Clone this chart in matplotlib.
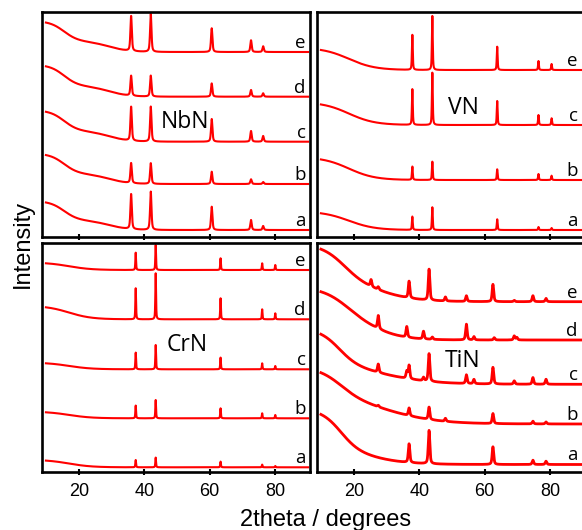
import numpy as np
import matplotlib
matplotlib.use("Agg")
import matplotlib.pyplot as plt

plt.rcParams['font.family'] = ['Liberation Sans', 'DejaVu Sans']

# ---------------- data (arbitrary intensity units, offset traces) ----------------
X_RANGE = (10, 90)

# NbN panel
NBN_LABELS = ['a', 'b', 'c', 'd', 'e']
NBN_POS = [36.0, 42.0, 60.6, 72.6, 76.3]
NBN_HEIGHTS = [[35, 38.3, 23.3, 10, 4],
               [20, 20.7, 12.3, 4.7, 2],
               [34, 35, 22.7, 10.7, 5.7],
               [20, 21, 13.3, 6.7, 3.4],
               [35, 38, 23.7, 11.7, 5.7]]
NBN_BASE = [7, 53, 95.3, 140.3, 185]
NBN_BG_FAST = [19.5, 20.5, 21, 21.5, 20.5]
NBN_BG_SLOW = [9.5, 10, 10.5, 10.5, 10.5]
NBN_BG_SHAPE = [15.5, 2.2, 29.5, 3.0]      # fast mid, fast width, slow mid, slow width

# VN panel
VN_LABELS = ['a', 'b', 'c', 'e']
VN_POS = [37.9, 44.0, 63.8, 76.4, 80.4]
VN_HEIGHTS = [[13.3, 22.7, 10.7, 3, 2],
              [13.3, 18.3, 10.7, 6, 4.3],
              [35.7, 52.3, 24, 10, 6.7],
              [35, 54, 23.3, 9, 6]]
VN_BASE = [7, 57, 112, 167]
VN_BG_FAST = [18.7, 23, 23, 22.4]
VN_BG_SLOW = [0, 0, 0, 0]
VN_BG_SHAPE = [18.5, 4.0, 30, 3]

# CrN panel
CRN_LABELS = ['a', 'b', 'c', 'd', 'e']
CRN_POS = [37.4, 43.5, 63.3, 76.0, 80.0]
CRN_HEIGHTS = [[7.3, 9.7, 5.7, 2.7, 1.3],
               [12.7, 18.3, 10, 5, 3.3],
               [16.7, 24.3, 11.7, 6, 3.3],
               [31, 46, 21, 10, 6],
               [17.3, 25, 11.7, 6.7, 5]]
CRN_BASE = [4.7, 53.7, 102.7, 152.7, 202]
CRN_BG_FAST = [7.6, 6.8, 6.8, 13.6, 7.6]
CRN_BG_SLOW = [0, 0, 0, 0, 0]
CRN_BG_SHAPE = [17, 3.5, 30, 3]

# TiN panel
TIN_LABELS = ['a', 'b', 'c', 'd', 'e']
TIN_POS = [25.3, 27.5, 36.2, 36.9, 41.3, 43.0, 44.0, 48.0,
           54.4, 56.7, 62.5, 62.9, 69.0, 69.8, 74.7, 78.7]
TIN_HEIGHTS = [[0, 0, 0, 18.7, 0, 33.3, 0, 0, 0, 0, 17.7, 0, 0, 0, 4.3, 3.3],
               [0, 1.5, 0, 7.7, 0, 12.3, 0, 3, 0, 0, 10, 0, 0, 0, 2.7, 2],
               [0, 8.3, 7, 13.3, 3.3, 27.7, 0, 0, 8.7, 4.3, 16.7, 0, 3.3, 0, 6.7, 5],
               [0, 13, 10.7, 0, 7.7, 0, 2.3, 0, 15.7, 3.3, 0, 2.3, 4, 2.5, 0, 0],
               [6.7, 2.7, 0, 16.7, 0, 31, 0, 4, 5.7, 0, 17.3, 0, 1.3, 0, 6, 3.3]]
TIN_BASE = [7.5, 48, 87.7, 132, 170.3]
TIN_BG_FAST = [42, 30, 35, 35, 38]
TIN_BG_FAST_MID = [16, 16, 15.5, 18, 17]
TIN_BG_FAST_W = [3, 3.5, 3, 4, 3.5]
TIN_BG_SLOW = [14, 28, 22, 18, 20]
TIN_BG_SLOW_MID = [26, 30, 28, 27, 28]
TIN_BG_SLOW_W = [6, 8, 8, 5, 6]

PANEL_NAMES = ['NbN', 'VN', 'CrN', 'TiN']
XTICKS = [20, 40, 60, 80]

# ---------------- model helpers ----------------
x = np.linspace(X_RANGE[0], X_RANGE[1], 8001)


def sig(xx, amp, mid, width):
    return amp / (1.0 + np.exp((xx - mid) / width))


def peak(xx, c, h, fwhm, eta=0.55):
    lor = 1.0 / (1.0 + ((xx - c) / (fwhm / 2.0)) ** 2)
    gau = np.exp(-4 * np.log(2) * ((xx - c) / fwhm) ** 2)
    return h * (eta * lor + (1 - eta) * gau)


def trace(base, heights, pos, fwhm, a1, m1, w1, a2, m2, w2):
    y = base + sig(x, a1, m1, w1) + sig(x, a2, m2, w2)
    for c, h in zip(pos, heights):
        if h > 0:
            y = y + peak(x, c, h, fwhm)
    return y


# ---------------- figure ----------------
W, H = 582, 530
fig = plt.figure(figsize=(W / 100, H / 100), dpi=100)


def px_axes(l, t, r, b):
    return fig.add_axes([l / W, 1 - b / H, (r - l) / W, (b - t) / H])


ax_nbn = px_axes(42, 12, 310, 237)
ax_vn = px_axes(317, 12, 585, 237)
ax_crn = px_axes(42, 243, 310, 472)
ax_tin = px_axes(317, 243, 585, 472)

RED = '#ff0000'
LABEL_FONT = ['Open Sans', 'DejaVu Sans']


def style(ax, ymax, show_labels):
    ax.set_xlim(8.8, 90.6)
    ax.set_ylim(0, ymax)
    ax.set_yticks([])
    ax.set_xticks(XTICKS)
    ax.tick_params(axis='x', direction='inout', length=4, width=1.5,
                   pad=6, labelsize=13, labelbottom=show_labels,
                   colors='black')
    for s in ax.spines.values():
        s.set_linewidth(1.9)
        s.set_color('black')


def draw(ax, labels, pos, heights, base, fwhm, bgf, bgs, shape_list, lab_x, lw):
    for i, lab in enumerate(labels):
        m1, w1, m2, w2 = shape_list[i]
        y = trace(base[i], heights[i], pos, fwhm, bgf[i], m1, w1, bgs[i], m2, w2)
        ax.plot(x, y, color=RED, lw=lw, solid_joinstyle='round')
        ax.text(lab_x, base[i] + 4, lab, ha='right', va='baseline',
                fontsize=13.5, family=LABEL_FONT, color='black')


# NbN
draw(ax_nbn, NBN_LABELS, NBN_POS, NBN_HEIGHTS, NBN_BASE, 0.5,
     NBN_BG_FAST, NBN_BG_SLOW, [NBN_BG_SHAPE] * len(NBN_LABELS), 89.3, 1.5)
style(ax_nbn, 225, False)
ax_nbn.text(52.4, 115.3, PANEL_NAMES[0], ha='center', va='center',
            fontsize=16.5, family=LABEL_FONT)

# VN
draw(ax_vn, VN_LABELS, VN_POS, VN_HEIGHTS, VN_BASE, 0.3,
     VN_BG_FAST, VN_BG_SLOW, [VN_BG_SHAPE] * len(VN_LABELS), 88.4, 1.5)
style(ax_vn, 225, False)
ax_vn.text(53.6, 129, PANEL_NAMES[1], ha='center', va='center',
           fontsize=16.5, family=LABEL_FONT)

# CrN
draw(ax_crn, CRN_LABELS, CRN_POS, CRN_HEIGHTS, CRN_BASE, 0.25,
     CRN_BG_FAST, CRN_BG_SLOW, [CRN_BG_SHAPE] * len(CRN_LABELS), 89.3, 1.5)
style(ax_crn, 229, True)
ax_crn.text(53.0, 127, PANEL_NAMES[2], ha='center', va='center',
            fontsize=16.5, family=LABEL_FONT)

# TiN
tin_shapes = [[TIN_BG_FAST_MID[i], TIN_BG_FAST_W[i], TIN_BG_SLOW_MID[i], TIN_BG_SLOW_W[i]]
              for i in range(len(TIN_LABELS))]
draw(ax_tin, TIN_LABELS, TIN_POS, TIN_HEIGHTS, TIN_BASE, 0.55,
     TIN_BG_FAST, TIN_BG_SLOW, tin_shapes, 88.4, 2.0)
style(ax_tin, 229, True)
ax_tin.text(53.2, 111.3, PANEL_NAMES[3], ha='center', va='center',
            fontsize=16.5, family=LABEL_FONT)

fig.text(326 / W, 1 - 520 / H, '2theta / degrees', ha='center', va='center',
         fontsize=17)
fig.text(23 / W, 1 - 244 / H, 'Intensity', ha='center', va='center',
         rotation=90, fontsize=17)

fig.savefig('out.png', dpi=100)
